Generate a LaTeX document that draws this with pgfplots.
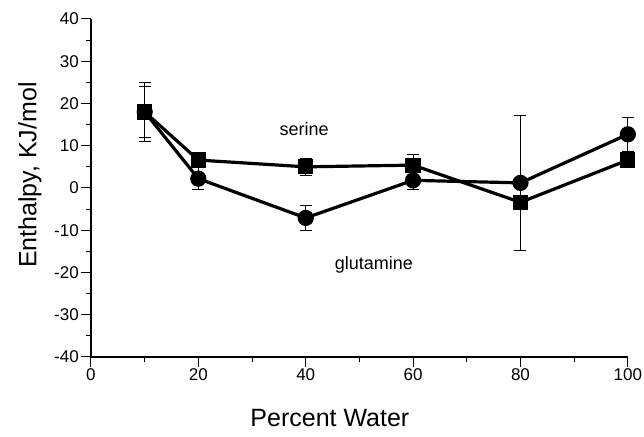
\documentclass[border=0pt]{standalone}
\usepackage{fontspec}
\setmainfont{Liberation Sans}
\usepackage{pgfplots}
\pgfplotsset{compat=1.18}
\begin{document}
\begin{tikzpicture}
\begin{axis}[
  scale only axis, width=537pt, height=338pt,
  xmin=0, xmax=100, ymin=-40, ymax=40,
  axis x line*=bottom, axis y line*=left,
  xtick={0,20,40,60,80,100}, xticklabels={0,20,40,60,80,100},
  minor xtick={10,30,50,70,90},
  ytick={-40,-30,-20,-10,0,10,20,30,40},
  yticklabels={-40,-30,-20,-10,0,10,20,30,40},
  minor ytick={-35,-25,-15,-5,5,15,25,35},
  tick align=outside, major tick length=10pt, minor tick length=5pt,
  tick style={line width=1pt, black},
  axis line style={line width=1.6pt},
  ticklabel style={font=\fontsize{17}{17}\selectfont, inner sep=2pt},
  xlabel={Percent Water}, ylabel={Enthalpy, KJ/mol},
  label style={font=\fontsize{25}{25}\selectfont},
  xlabel style={at={(axis description cs:0.445,-0.18)}, anchor=center},
  ylabel style={at={(axis description cs:-0.1136,0.538)}, anchor=center, rotate=0},
  clip=false,
]
\addplot[black, line width=3.2pt, mark=*, mark size=6.5pt,
  error bars/.cd, y dir=both, y explicit,
  error bar style={line width=1pt, black},
  error mark options={rotate=90, line width=1pt, mark size=6pt, black}]
  table[x=x, y=y, y error=e] {
x y e
10 18 7
20 2.2 2.6
40 -7.1 3
60 1.8 2.2
80 1.2 16
100 12.7 4
};
\addplot[black, line width=3.2pt, mark=square*, mark size=6pt,
  error bars/.cd, y dir=both, y explicit,
  error bar style={line width=1pt, black},
  error mark options={rotate=90, line width=1pt, mark size=6pt, black}]
  table[x=x, y=y, y error=e] {
x y e
10 18 6
20 6.6 1
40 5 2
60 5.4 2.4
80 -3.4 1
100 6.6 1.5
};
\node[font=\fontsize{18}{18}\selectfont] at (axis cs:39.7,14) {serine};
\node[font=\fontsize{18}{18}\selectfont] at (axis cs:52.7,-18.2) {glutamine};
\path (current axis.south west) ++(-91pt,-80pt) coordinate (bl);
\path (current axis.north east) ++(16pt,19pt) coordinate (tr);
\path (bl) rectangle (tr);
\end{axis}
\end{tikzpicture}
\end{document}
